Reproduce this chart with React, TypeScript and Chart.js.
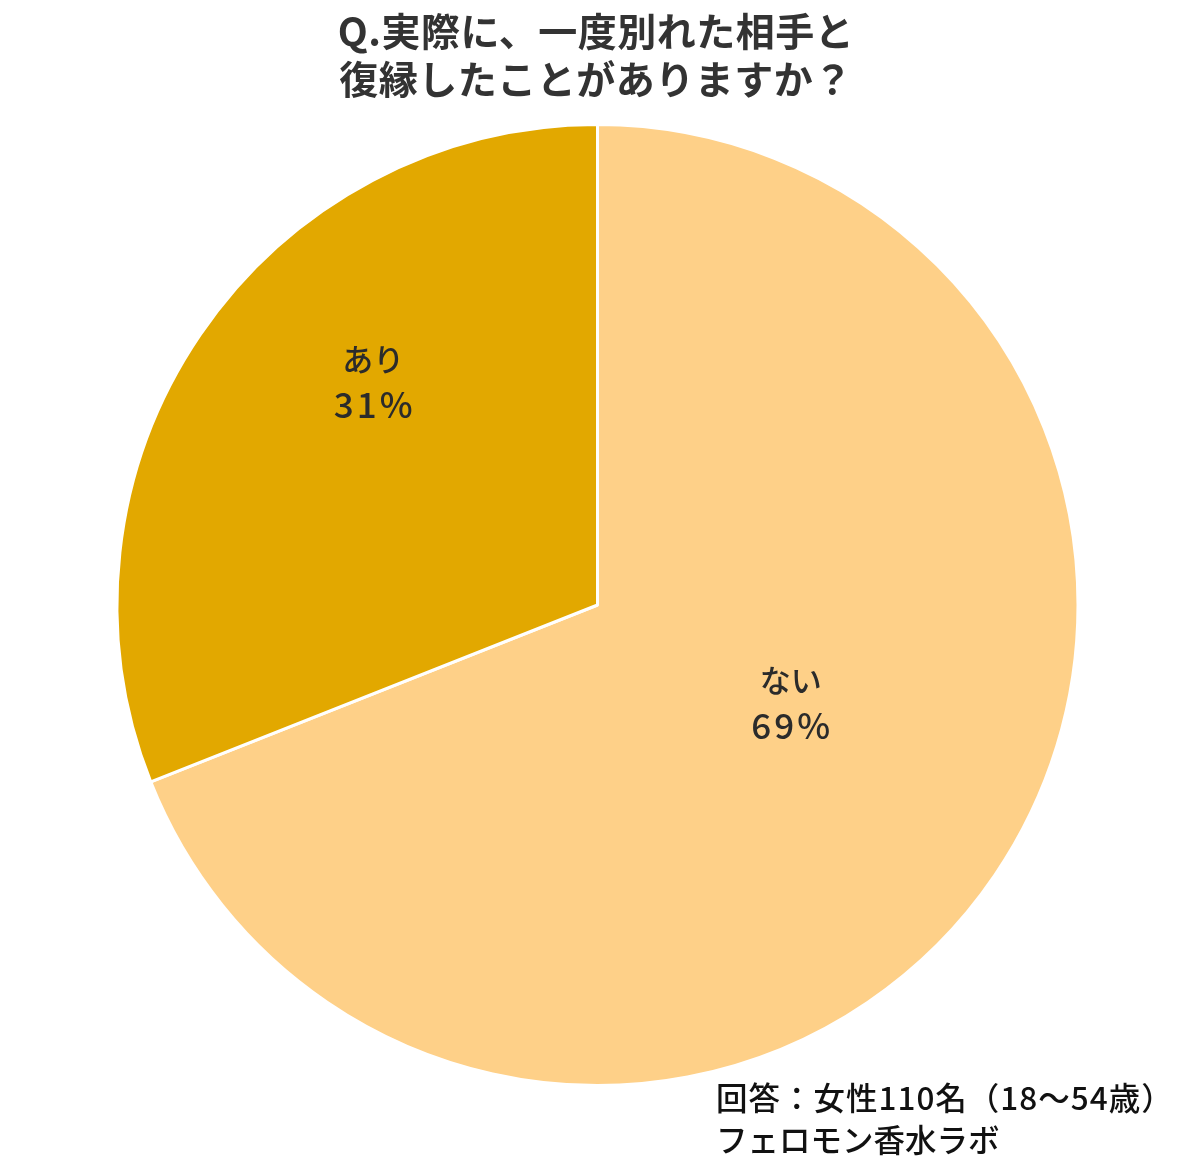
import React, { useEffect, useRef } from 'react'
import Chart, { ChartConfiguration, Plugin } from 'chart.js/auto'

const TITLE_LINES = ['Q.実際に、一度別れた相手と', '復縁したことがありますか？']
const CATEGORIES = ['ない', 'あり']
const PERCENTS = [69, 31]
const SLICE_COLORS = ['#FED088', '#E2A800']
const NOTE_LINES = ['回答：女性110名（18～54歳）', 'フェロモン香水ラボ']

const FONT = '"Noto Sans CJK JP", "Noto Sans", sans-serif'

// where each slice label sits: fraction of radius + angle nudge (deg)
const LABEL_RADIUS = [0.45, 0.66]
const LABEL_ANGLE_SHIFT = [-7.5, 10.8]

const textPlugin: Plugin<'pie'> = {
  id: 'pieText',
  afterDraw: (chart) => {
    const ctx = chart.ctx as any
    ctx.save()

    // title
    ctx.fillStyle = '#333333'
    ctx.textAlign = 'center'
    ctx.textBaseline = 'middle'
    ctx.font = `bold 39px ${FONT}`
    ctx.letterSpacing = '0.5px'
    TITLE_LINES.forEach((line: string, i: number) => {
      ctx.fillText(line, 596, 31 + i * 48)
    })

    // slice labels
    const meta = chart.getDatasetMeta(0)
    meta.data.forEach((el, i) => {
      const arc = el as any
      const mid =
        (arc.startAngle + arc.endAngle) / 2 +
        (LABEL_ANGLE_SHIFT[i] * Math.PI) / 180
      const r = arc.outerRadius * LABEL_RADIUS[i]
      const x = arc.x + r * Math.cos(mid)
      const y = arc.y + r * Math.sin(mid)
      ctx.fillStyle = '#2b2b2b'
      ctx.letterSpacing = '0px'
      ctx.font = `500 31px ${FONT}`
      ctx.fillText(CATEGORIES[i], x, y - 22)
      ctx.letterSpacing = '3px'
      ctx.font = `500 35px ${FONT}`
      ctx.fillText(`${PERCENTS[i]}%`, x + 1.5, y + 24)
    })

    // note
    ctx.fillStyle = '#111111'
    ctx.textAlign = 'left'
    ctx.font = `500 31.5px ${FONT}`
    ctx.letterSpacing = '1px'
    ctx.fillText(NOTE_LINES[0], 716, 1098)
    ctx.letterSpacing = '0px'
    ctx.fillText(NOTE_LINES[1], 716, 1140)

    ctx.restore()
  },
}

const App: React.FC = () => {
  const canvasRef = useRef<HTMLCanvasElement | null>(null)

  useEffect(() => {
    document.body.style.margin = '0'
    if (!canvasRef.current) return
    const ctx = canvasRef.current.getContext('2d')
    if (!ctx) return

    const config: ChartConfiguration<'pie'> = {
      type: 'pie',
      data: {
        labels: CATEGORIES,
        datasets: [
          {
            data: PERCENTS,
            backgroundColor: SLICE_COLORS,
            borderColor: '#ffffff',
            borderWidth: 3,
          },
        ],
      },
      options: {
        responsive: false,
        animation: false,
        devicePixelRatio: 1,
        layout: { padding: { top: 123, bottom: 83, left: 115, right: 120 } },
        plugins: {
          legend: { display: false },
          tooltip: { enabled: false },
          title: { display: false },
        },
      },
      plugins: [textPlugin],
    }

    const chart = new Chart(ctx, config)
    return () => chart.destroy()
  }, [])

  return (
    <div style={{ width: 1200, height: 1170, background: '#fff' }}>
      <canvas ref={canvasRef} width={1200} height={1170}></canvas>
    </div>
  )
}

export default App
